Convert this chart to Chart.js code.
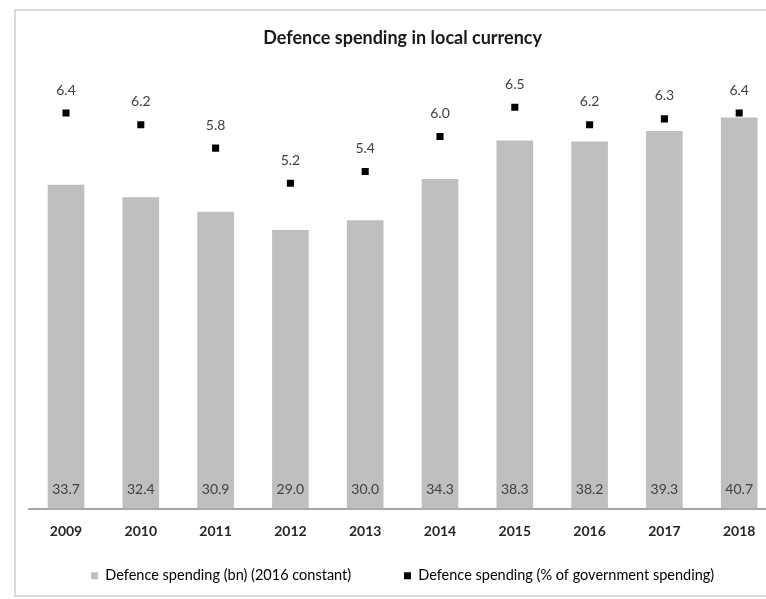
<!DOCTYPE html>
<html>
<head>
<meta charset="utf-8">
<script src="https://cdn.jsdelivr.net/npm/chart.js@4"></script>
<style>
  html, body { margin: 0; padding: 0; background: #fff; overflow: hidden; }
  #frame {
    position: absolute; left: 14px; top: 9px;
    width: 772px; height: 584px;
    border: 2px solid #dadada;
  }
  canvas { display: block; }
</style>
</head>
<body>
<div id="frame"><canvas id="chart" width="772" height="584"></canvas></div>
<script>
// Datos del gráfico
const years = ['2009', '2010', '2011', '2012', '2013', '2014', '2015', '2016', '2017', '2018'];
const spendingBn = [33.7, 32.4, 30.9, 29.0, 30.0, 34.3, 38.3, 38.2, 39.3, 40.7];
const spendingPct = [6.4, 6.2, 5.8, 5.2, 5.4, 6.0, 6.5, 6.2, 6.3, 6.4];

// Etiquetas de valores (barras abajo, puntos arriba)
const valueLabels = {
  id: 'valueLabels',
  afterDatasetsDraw(chart) {
    const ctx = chart.ctx;
    ctx.save();
    ctx.font = '14px Lato';
    ctx.fillStyle = '#404040';
    ctx.textAlign = 'center';
    ctx.textBaseline = 'middle';
    chart.getDatasetMeta(0).data.forEach((bar, i) => {
      ctx.fillText(spendingBn[i].toFixed(1), bar.x, bar.base - 19);
    });
    chart.getDatasetMeta(1).data.forEach((pt, i) => {
      ctx.fillText(spendingPct[i].toFixed(1), pt.x, pt.y - 23);
    });
    ctx.restore();
  }
};

const ctx = document.getElementById('chart').getContext('2d');
new Chart(ctx, {
  data: {
    labels: years,
    datasets: [
      {
        type: 'bar',
        label: 'Defence spending (bn) (2016 constant)',
        data: spendingBn,
        backgroundColor: '#bfbfbf',
        borderWidth: 0,
        barPercentage: 0.49,
        categoryPercentage: 1,
        yAxisID: 'y',
        order: 2
      },
      {
        type: 'line',
        label: 'Defence spending (% of government spending)',
        data: spendingPct,
        showLine: false,
        pointStyle: 'rect',
        pointRadius: 5,
        pointHoverRadius: 5,
        backgroundColor: '#000',
        borderColor: '#000',
        borderWidth: 0,
        yAxisID: 'y2',
        order: 1
      }
    ]
  },
  options: {
    responsive: false,
    animation: false,
    layout: { padding: { top: 0, left: 12.6, right: 11.4, bottom: 2 } },
    plugins: {
      title: {
        display: true,
        text: 'Defence spending in local currency',
        color: '#1a1a1a',
        font: { family: 'Lato', size: 18, weight: 'bold' },
        padding: { top: 16.2, bottom: 27.4 }
      },
      legend: {
        position: 'bottom',
        labels: {
          color: '#404040',
          font: { family: 'Lato', size: 14.5 },
          boxWidth: 7,
          boxHeight: 7,
          padding: 12,
          // espacio extra tras el primer elemento, como en el original
          generateLabels: chart => chart.data.datasets.map((ds, i) => ({
            text: i === 0 ? ds.label + ' '.repeat(11) : ds.label,
            fillStyle: ds.backgroundColor,
            strokeStyle: ds.backgroundColor,
            lineWidth: 0,
            datasetIndex: i
          }))
        }
      },
      tooltip: { enabled: false }
    },
    scales: {
      x: {
        grid: { display: false },
        border: { display: true, color: '#a6a6a6', width: 2 },
        ticks: {
          color: '#262626',
          font: { family: 'Lato', size: 14, weight: 'bold' },
          padding: 7
        },
        afterFit: s => { s.height = 48; }
      },
      y: { display: false, min: 0, max: 45 },
      y2: { display: false, position: 'right', min: -0.36, max: 7.03 }
    }
  },
  plugins: [valueLabels]
});
</script>
</body>
</html>
